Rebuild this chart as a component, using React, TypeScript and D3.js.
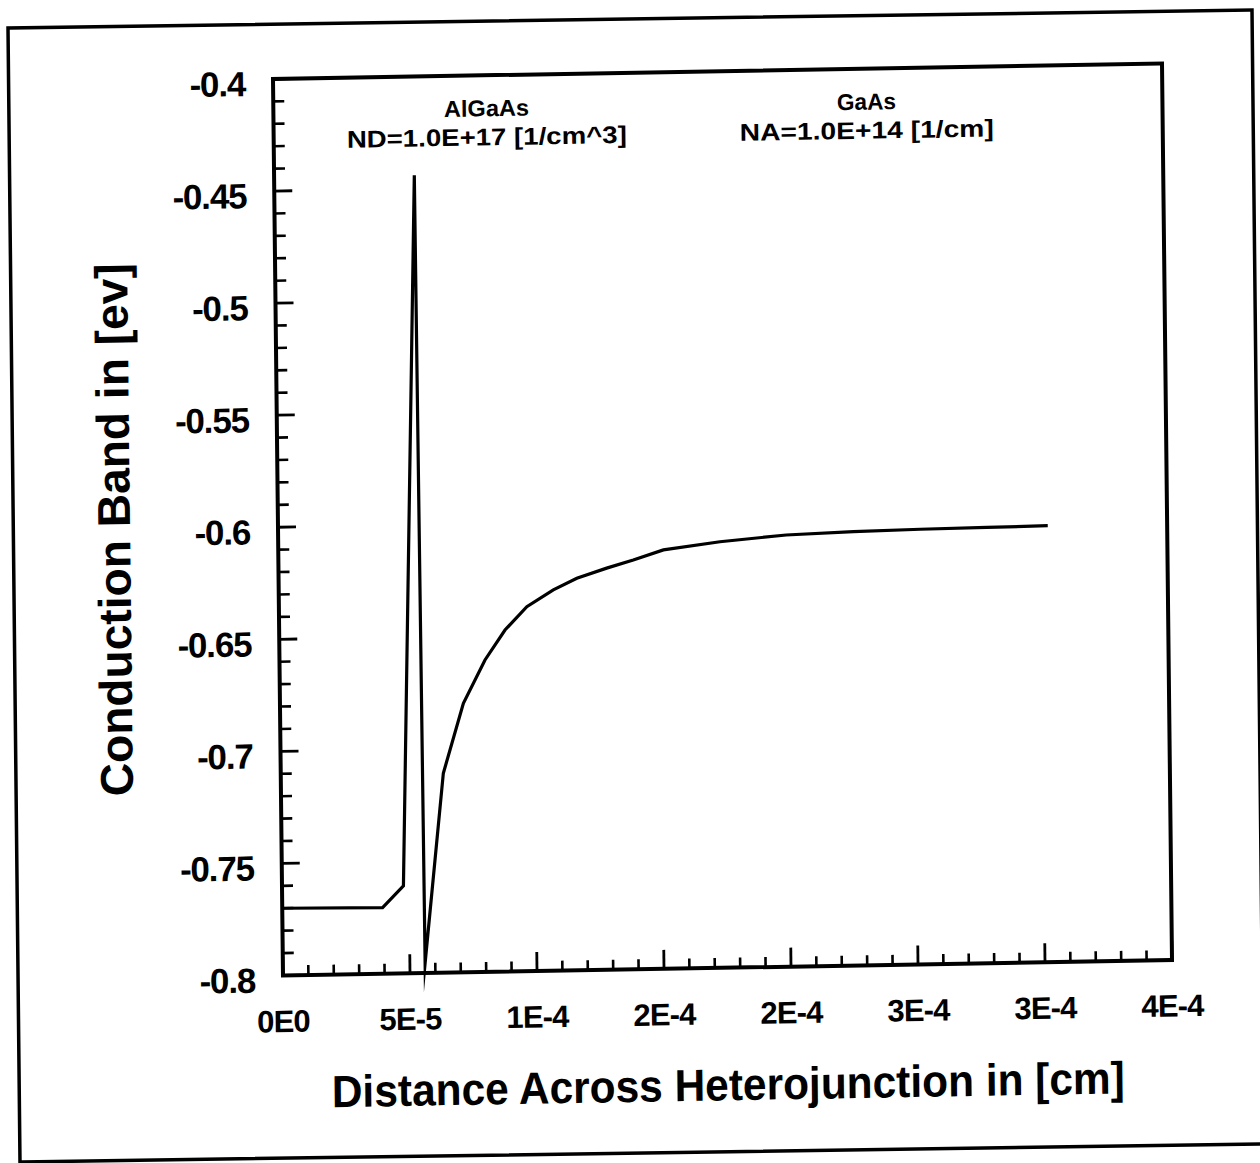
import React from "react";
import * as d3 from "d3";

// ---- data ----
const distanceCm = [
  0, 3.95e-5, 4.78e-5, 5.52e-5, 5.6e-5, 6.4e-5, 7.22e-5, 8.09e-5, 8.89e-5,
  9.76e-5, 1.081e-4, 1.174e-4, 1.292e-4, 1.397e-4, 1.516e-4, 1.739e-4, 2.0e-4,
  2.265e-4, 2.528e-4, 2.79e-4, 3.03e-4,
];
const conductionBandEv = [
  -0.77, -0.7705, -0.761, -0.444, -0.7955, -0.711, -0.68, -0.6608, -0.6476,
  -0.6374, -0.6301, -0.6251, -0.6208, -0.6174, -0.6131, -0.6099, -0.6074,
  -0.6064, -0.6059, -0.6056, -0.6053,
];
const xMajorTicks = [0, 5e-5, 1e-4, 1.5e-4, 2e-4, 2.5e-4, 3e-4, 3.5e-4];
const xTickLabels = ["0E0", "5E-5", "1E-4", "2E-4", "2E-4", "3E-4", "3E-4", "4E-4"];
const yMajorTicks = [-0.8, -0.75, -0.7, -0.65, -0.6, -0.55, -0.5, -0.45, -0.4];
const yTickLabels = ["-0.8", "-0.75", "-0.7", "-0.65", "-0.6", "-0.55", "-0.5", "-0.45", "-0.4"];
const annotationX = [8.39e-5, 2.335e-4];
const annotationLine1 = ["AlGaAs", "GaAs"];
const annotationLine2 = ["ND=1.0E+17 [1/cm^3]", "NA=1.0E+14 [1/cm]"];
const xTitle = "Distance Across Heterojunction in [cm]";
const yTitle = "Conduction Band in [ev]";

const FONT = "'Liberation Sans', Arial, Helvetica, sans-serif";

export default function App() {
  const L = 283, W = 889, B = 975.5, T = 79;
  const x = d3.scaleLinear().domain([0, 3.5e-4]).range([L, L + W]);
  const y = d3.scaleLinear().domain([-0.8, -0.4]).range([B, T]);

  const pts = distanceCm.map((d, i) => [d, conductionBandEv[i]] as [number, number]);
  const line = d3
    .line<[number, number]>()
    .x((d) => x(d[0]))
    .y((d) => y(d[1]))
    .curve(d3.curveLinear);

  const xMinor = d3.range(0, 36).map((i) => i * 1e-5).filter((_, i) => i % 5 !== 0);
  const yMinor = d3.range(0, 41).map((i) => -0.8 + i * 0.01).filter((_, i) => i % 5 !== 0);

  // scan is slightly skewed/rotated; mimic with an affine matrix
  const plotMatrix = "matrix(1,-0.01744,0.01115,1,-10.88,4.935)";
  const frameMatrix = "matrix(1,-0.01447,0.01058,1,-0.296,0.116)";

  const line1Len = [85, 59];
  const line2Len = [280, 254];

  return (
    <svg
      width={1260}
      height={1163}
      style={{ position: "absolute", left: 0, top: 0, background: "#fff" }}
      fontFamily={FONT}
    >
      <rect x={0} y={0} width={1260} height={1163} fill="#fff" />
      <g transform={frameMatrix}>
        <rect x={8} y={28} width={1244} height={1134} fill="none" stroke="#000" strokeWidth={3.5} />
      </g>
      <g transform={plotMatrix}>
        {/* minor ticks */}
        {xMinor.map((v, i) => (
          <line key={"xm" + i} x1={x(v)} x2={x(v)} y1={B} y2={B - 10} stroke="#000" strokeWidth={2.6} />
        ))}
        {xMajorTicks.map((v, i) => (
          <line key={"xM" + i} x1={x(v)} x2={x(v)} y1={B} y2={B - 19} stroke="#000" strokeWidth={2.8} />
        ))}
        {yMinor.map((v, i) => (
          <line key={"ym" + i} x1={L} x2={L + 11} y1={y(v)} y2={y(v)} stroke="#000" strokeWidth={2.6} />
        ))}
        {yMajorTicks.map((v, i) => (
          <line key={"yM" + i} x1={L} x2={L + 18} y1={y(v)} y2={y(v)} stroke="#000" strokeWidth={2.8} />
        ))}

        {/* plot frame */}
        <rect x={L} y={T} width={W} height={B - T} fill="none" stroke="#000" strokeWidth={4} />

        {/* curve */}
        <path d={line(pts) || ""} fill="none" stroke="#000" strokeWidth={3.2} strokeLinejoin="miter" strokeMiterlimit={30} />

        {/* y tick labels */}
        {yMajorTicks.map((v, i) => (
          <text
            key={"yl" + i}
            x={255}
            y={y(v) + 4}
            dy="0.36em"
            textAnchor="end"
            fontSize={35}
            fontWeight="bold"
            letterSpacing={-1.2}
          >
            {yTickLabels[i]}
          </text>
        ))}
        {/* x tick labels */}
        {xMajorTicks.map((v, i) => (
          <text
            key={"xl" + i}
            x={x(v)}
            y={1032}
            textAnchor="middle"
            fontSize={31}
            fontWeight="bold"
            letterSpacing={-0.8}
          >
            {xTickLabels[i]}
          </text>
        ))}

        {/* annotations */}
        {annotationX.map((ax, i) => (
          <g key={"an" + i}>
            <text
              x={x(ax)}
              y={120}
              textAnchor="middle"
              fontSize={23}
              fontWeight="bold"
              textLength={line1Len[i]}
              lengthAdjust="spacingAndGlyphs"
            >
              {annotationLine1[i]}
            </text>
            <text
              x={x(ax)}
              y={149}
              textAnchor="middle"
              fontSize={24}
              fontWeight="bold"
              textLength={line2Len[i]}
              lengthAdjust="spacingAndGlyphs"
            >
              {annotationLine2[i]}
            </text>
          </g>
        ))}

        {/* axis titles */}
        <text
          x={727}
          y={1108}
          textAnchor="middle"
          fontSize={45}
          fontWeight="bold"
          textLength={793}
          lengthAdjust="spacingAndGlyphs"
        >
          {xTitle}
        </text>
        <text
          transform="translate(135,527) rotate(-90)"
          textAnchor="middle"
          fontSize={46}
          fontWeight="bold"
          textLength={533}
          lengthAdjust="spacingAndGlyphs"
        >
          {yTitle}
        </text>
      </g>
    </svg>
  );
}
